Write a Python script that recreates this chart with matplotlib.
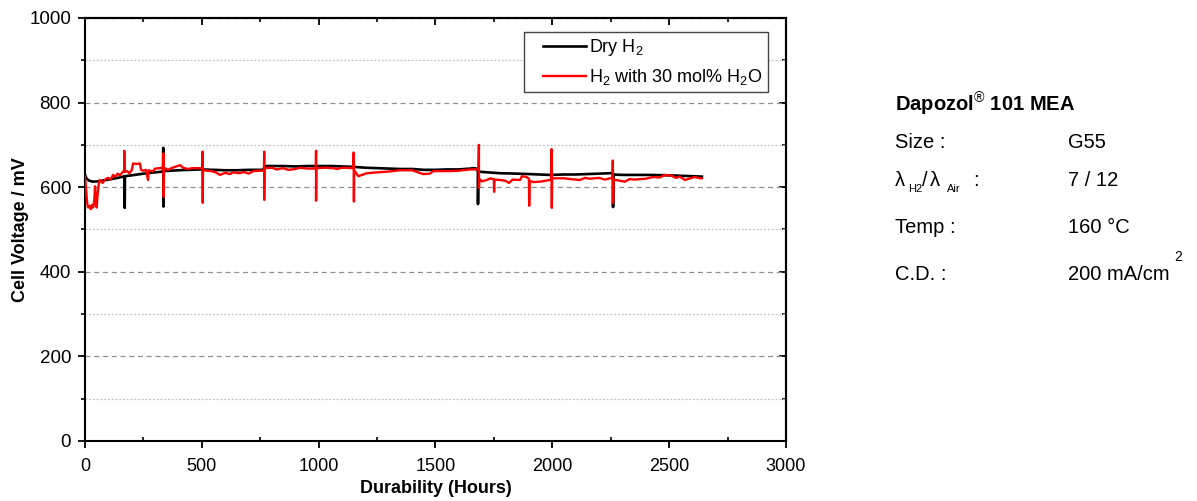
import matplotlib
matplotlib.use("Agg")
import matplotlib.pyplot as plt
from matplotlib.ticker import MultipleLocator
from matplotlib.legend_handler import HandlerLine2D

plt.rcParams['font.family'] = ['Liberation Sans', 'DejaVu Sans']
plt.rcParams['mathtext.fontset'] = 'custom'
plt.rcParams['mathtext.rm'] = 'Liberation Sans'
plt.rcParams['mathtext.it'] = 'Liberation Sans:italic'
plt.rcParams['mathtext.bf'] = 'Liberation Sans:bold'

# ---- data ----
dry_hours = [0, 5, 15, 34, 60, 100, 140, 165, 170, 170, 171, 200, 250, 300, 334, 335, 336, 337,
             400, 450, 492, 550, 600, 650, 700, 762, 770, 850, 900, 950, 1000, 1061, 1100, 1150,
             1200, 1250, 1300, 1348, 1400, 1450, 1500, 1550, 1600, 1650, 1660, 1675, 1682, 1682,
             1683, 1700, 1776, 1850, 1900, 1990, 2050, 2100, 2150, 2200, 2247, 2260, 2260, 2261,
             2300, 2350, 2418, 2500, 2550, 2600, 2640]
dry_mv = [630, 622, 616, 613, 614, 618, 622, 625, 626, 551, 626, 628, 632, 635, 637, 693, 554, 638,
          640, 641, 642, 641, 640, 640, 641, 641, 650, 650, 649, 650, 650, 650, 649, 648,
          646, 645, 644, 643, 643, 641, 641, 642, 642, 644, 645, 644, 637, 560,
          637, 636, 633, 632, 631, 629, 630, 630, 631, 632, 633, 633, 553, 630,
          629, 629, 629, 628, 627, 626, 625]

wet_hours = [0, 4, 7, 10, 13, 20, 25, 30, 35, 40, 43, 46, 50, 55, 60, 64, 75, 90, 100, 110, 120,
             130, 140, 150, 163, 168, 168, 169, 180, 190, 200, 206, 220, 235, 240, 248, 260, 270,
             272, 290, 300, 320, 334, 336, 337, 338, 355, 370, 390, 407, 420, 440, 460, 492, 503,
             503, 504, 505, 540, 560, 578, 600, 620, 634, 660, 680, 700, 720, 749, 766, 767, 767,
             768, 800, 820, 848, 870, 900, 920, 950, 988, 989, 989, 990, 1030, 1061, 1080, 1100,
             1148, 1150, 1151, 1152, 1170, 1206, 1250, 1300, 1348, 1400, 1447, 1476, 1490, 1562,
             1600, 1648, 1684, 1686, 1686, 1688, 1700, 1720, 1735, 1750, 1751, 1752, 1776, 1800,
             1815, 1830, 1862, 1870, 1890, 1900, 1901, 1903, 1920, 1947, 1970, 1990, 1996, 1997,
             1998, 1999, 2050, 2080, 2118, 2140, 2160, 2200, 2225, 2247, 2258, 2259, 2260, 2262,
             2290, 2311, 2330, 2350, 2400, 2430, 2460, 2482, 2510, 2530, 2546, 2568, 2590, 2610,
             2632, 2640]
wet_mv = [625, 600, 577, 560, 552, 556, 548, 558, 552, 570, 602, 560, 552, 590, 612, 617, 610, 620,
          622, 618, 629, 625, 632, 628, 637, 636, 686, 636, 638, 633, 640, 656, 655, 656, 641, 639,
          641, 617, 640, 637, 644, 645, 646, 680, 577, 646, 641, 645, 649, 652, 646, 643, 645, 645,
          645, 684, 563, 640, 638, 635, 629, 634, 631, 635, 633, 636, 632, 638, 639, 639, 684, 570,
          645, 646, 642, 645, 641, 643, 646, 644, 644, 686, 568, 645, 646, 645, 643, 646,
          645, 682, 566, 640, 626, 633, 635, 637, 640, 640, 631, 632, 638, 638,
          639, 642, 642, 700, 598, 619, 614, 617, 621, 618, 589, 618, 617, 615,
          610, 618, 617, 626, 624, 620, 556, 615, 612, 613, 615, 617, 618, 690,
          551, 621, 621, 619, 617, 622, 620, 622, 618, 621, 622, 663, 563, 618,
          615, 613, 619, 618, 620, 624, 623, 629, 627, 622, 625, 617, 621, 624,
          621, 621]

x_ticks = [0, 500, 1000, 1500, 2000, 2500, 3000]
y_ticks = [0, 200, 400, 600, 800, 1000]
legend_labels = ['Dry H$_2$', 'H$_2$ with 30 mol% H$_2$O']

# ---- figure ----
fig = plt.figure(figsize=(11.97, 5.01), dpi=100)
ax = fig.add_axes([0.0710, 0.1198, 0.5856, 0.8443])

ax.plot(dry_hours, dry_mv, color='black', lw=1.9, label=legend_labels[0], zorder=3)
ax.plot(wet_hours, wet_mv, color='#ff0000', lw=1.7, label=legend_labels[1], zorder=4)

ax.set_xlim(0, 3000)
ax.set_ylim(0, 1000)
ax.set_xticks(x_ticks)
ax.set_yticks(y_ticks)
ax.xaxis.set_minor_locator(MultipleLocator(250))
ax.yaxis.set_minor_locator(MultipleLocator(100))

for s in ax.spines.values():
    s.set_linewidth(1.5)

ax.tick_params(axis='x', which='major', direction='out', length=5, width=1.3, labelsize=13, pad=7)
ax.tick_params(axis='x', which='minor', direction='in', length=3, width=1.2)
ax.tick_params(axis='y', which='major', direction='out', length=5, width=1.3, labelsize=13.5, pad=5)
ax.tick_params(axis='y', which='minor', direction='out', length=3, width=1.2)

# grid
ax.grid(True, which='major', axis='y', color='#909090', linestyle=(0, (4, 3)), linewidth=0.9, zorder=0)
ax.grid(True, which='minor', axis='y', color='#c0c0c0', linestyle=(0, (1.5, 1.5)), linewidth=0.9, zorder=0)
ax.set_axisbelow(True)

# top / right inward ticks
top = ax.secondary_xaxis('top')
top.set_xticks(x_ticks)
top.xaxis.set_minor_locator(MultipleLocator(250))
top.tick_params(which='major', direction='in', length=5, width=1.3, labeltop=False)
top.tick_params(which='minor', direction='in', length=3, width=1.2)
top.spines['top'].set_linewidth(1.5)
right = ax.secondary_yaxis('right')
right.set_yticks(y_ticks)
right.yaxis.set_minor_locator(MultipleLocator(100))
right.tick_params(which='major', direction='in', length=5, width=1.3, labelright=False)
right.tick_params(which='minor', direction='in', length=3, width=1.2)
right.spines['right'].set_linewidth(1.5)

ax.set_xlabel('Durability (Hours)', fontsize=13, fontweight='bold', labelpad=4)
ax.set_ylabel('Cell Voltage / mV', fontsize=13, fontweight='bold', labelpad=0.5)

hmap = {ln: HandlerLine2D(xpad=0.75) for ln in ax.get_lines()}
leg = ax.legend(loc='upper right', bbox_to_anchor=(0.975, 0.967), fontsize=13,
                frameon=True, fancybox=False, edgecolor='#444444', framealpha=1,
                handlelength=3.08, handletextpad=0.22, labelspacing=0.48, borderpad=0.3,
                borderaxespad=0.0, handler_map=hmap)
leg.get_frame().set_linewidth(1.0)

# ---- side annotation ----
fs = 14.5
fig.text(0.7477, 0.7924, 'Dapozol$^{®}$ 101 MEA', fontsize=fs, fontweight='bold', ha='left', va='center')
fig.text(0.7477, 0.7146, 'Size :', fontsize=fs, ha='left', va='center')
fig.text(0.8922, 0.7146, 'G55', fontsize=fs, ha='left', va='center')
fig.text(0.7477, 0.6407, 'λ', fontsize=fs, ha='left', va='center')
fig.text(0.7585, 0.6227, 'H2', fontsize=8, ha='left', va='center')
fig.text(0.7700, 0.6407, '/', fontsize=fs, ha='left', va='center')
fig.text(0.7770, 0.6407, 'λ', fontsize=fs, ha='left', va='center')
fig.text(0.7910, 0.6227, 'Air', fontsize=8, ha='left', va='center')
fig.text(0.8130, 0.6407, ':', fontsize=fs, ha='left', va='center')
fig.text(0.8922, 0.6407, '7 / 12', fontsize=fs, ha='left', va='center')
fig.text(0.7477, 0.5469, 'Temp :', fontsize=fs, ha='left', va='center')
fig.text(0.8922, 0.5469, '160 °C', fontsize=fs, ha='left', va='center')
fig.text(0.7477, 0.4511, 'C.D. :', fontsize=fs, ha='left', va='center')
fig.text(0.8922, 0.4511, '200 mA/cm', fontsize=fs, ha='left', va='center')
fig.text(0.9841, 0.4870, '2', fontsize=10, ha='center', va='center')

fig.savefig('out.png', dpi=100)
